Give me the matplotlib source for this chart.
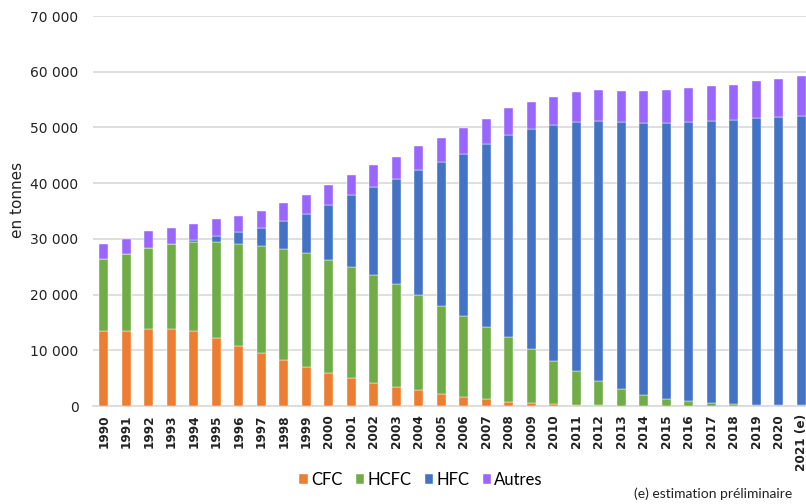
import matplotlib
matplotlib.use("Agg")
import matplotlib.pyplot as plt
import numpy as np
from matplotlib.ticker import FuncFormatter

years = [str(y) for y in range(1990, 2021)] + ["2021 (e)"]

cfc = [13500, 13500, 13860, 13740, 13380, 12130, 10810, 9560, 8300, 7050,
       5850, 5080, 4180, 3460, 2870, 2150, 1670, 1190, 780, 540,
       420, 240, 100, 60, 40, 30, 20, 10, 10, 10, 10, 10]
hcfc = [12900, 13800, 14570, 15350, 16070, 17320, 18280, 19170, 19960, 20370,
        20370, 19950, 19360, 18400, 17080, 15830, 14400, 12970, 11530, 9730,
        7700, 5970, 4440, 3050, 1930, 1280, 940, 590, 410, 230, 170, 90]
hfc = [0, 0, 0, 0, 420, 1080, 2090, 3230, 4950, 7110,
       9860, 12780, 15770, 18820, 22400, 25750, 29150, 32790, 36320, 39370,
       42240, 44750, 46650, 47850, 48810, 49470, 50000, 50540, 50890, 51430, 51670, 51930]
autres = [2700, 2700, 3000, 2930, 2810, 2980, 2990, 3110, 3230, 3400,
          3530, 3710, 3880, 4060, 4240, 4420, 4600, 4540, 4890, 4900,
          5020, 5310, 5440, 5490, 5670, 5970, 6150, 6270, 6280, 6630, 6930, 7230]

series = [("CFC", cfc, "#ED7D31"), ("HCFC", hcfc, "#70AD47"),
          ("HFC", hfc, "#4472C4"), ("Autres", autres, "#9966FF")]

fig = plt.figure(figsize=(8.06, 5.04), dpi=100)
ax = fig.add_axes([92.5/806, 98/504, 720/806, 390/504])

x = np.arange(len(years))
bottom = np.zeros(len(years))
handles = []
for name, vals, col in series:
    v = np.array(vals, dtype=float)
    b = ax.bar(x, v, 0.41, bottom=bottom, color=col, label=name, zorder=3,
               edgecolor="white", linewidth=0.3)
    bottom += v
    handles.append(b)

ax.set_xlim(-0.5, len(years) - 0.5)
ax.set_ylim(0, 70000)
ax.set_yticks(np.arange(0, 70001, 10000))
ax.yaxis.set_major_formatter(FuncFormatter(lambda v, p: f"{int(v):,}".replace(",", " ")))
ax.grid(axis="y", color="#D9D9D9", linewidth=1.2, zorder=0)
ax.set_axisbelow(True)
for s in ["top", "right", "left"]:
    ax.spines[s].set_visible(False)
ax.spines["bottom"].set_color("#D9D9D9")
ax.spines["bottom"].set_linewidth(1.2)
ax.tick_params(axis="y", length=0, pad=10, labelsize=10, colors="#222222")
ax.tick_params(axis="x", length=0, pad=6, labelsize=8.7, colors="#222222")
ax.set_xticks(x)
ax.set_xticklabels(years, rotation=90, fontweight="bold")
ax.set_ylabel("en tonnes", fontsize=11, color="#222222")
ax.yaxis.set_label_coords((25 - 92.5) / 720, (406 - 200) / 390)

fig.legend(handles=handles, labels=[s[0] for s in series], loc="center",
           bbox_to_anchor=(421/806, 1 - 480/504), ncol=4, frameon=False,
           prop={"family": "Lato", "size": 12},
           handlelength=0.5, handleheight=0.5, handletextpad=0.2, columnspacing=0.8)
fig.text(792/806, 1 - 494/504, "(e) estimation préliminaire", ha="right", va="center",
         fontsize=10, family="Lato", color="#222222")

fig.savefig("out.png", dpi=100)
